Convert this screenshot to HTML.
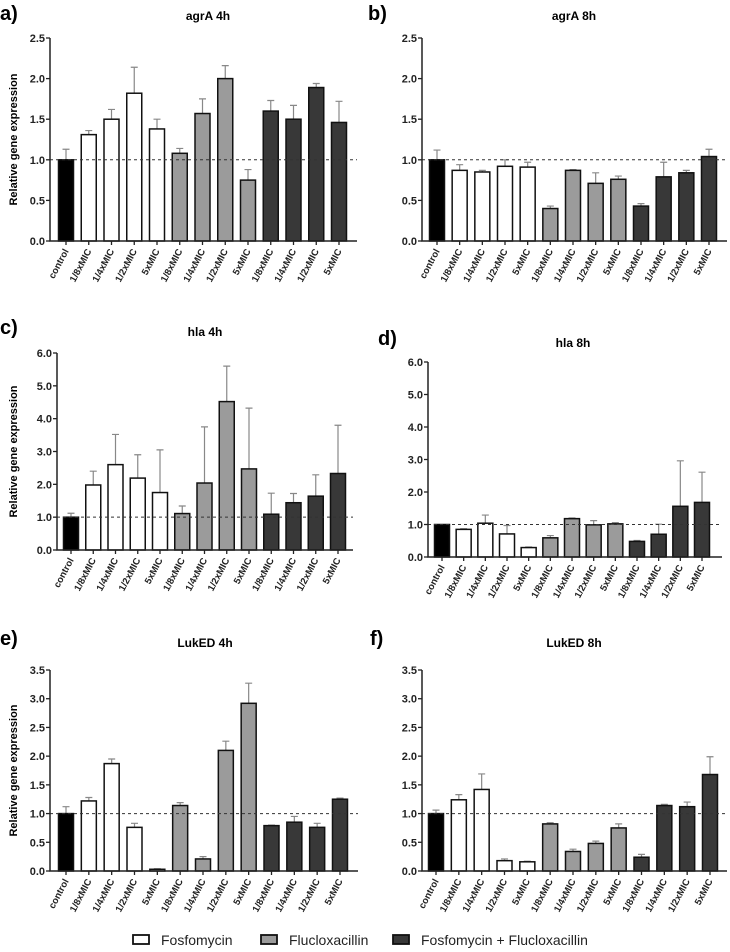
<!DOCTYPE html>
<html><head><meta charset="utf-8"><style>
body{margin:0;background:#fff;}
svg{display:block;font-family:"Liberation Sans",Arial,sans-serif;}
</style></head><body>
<svg id="fig" width="730" height="952" viewBox="0 0 730 952" xmlns="http://www.w3.org/2000/svg"></svg>
<script>
const categories = ["control","1/8xMIC","1/4xMIC","1/2xMIC","5xMIC","1/8xMIC","1/4xMIC","1/2xMIC","5xMIC","1/8xMIC","1/4xMIC","1/2xMIC","5xMIC"];
const groups = [0,1,1,1,1,2,2,2,2,3,3,3,3];
const agrA4hValues = [1.0,1.31,1.5,1.82,1.38,1.08,1.57,2.0,0.75,1.6,1.5,1.89,1.46];
const agrA4hErrTop = [1.13,1.36,1.62,2.14,1.5,1.14,1.75,2.16,0.88,1.73,1.67,1.94,1.72];
const agrA8hValues = [1.0,0.87,0.85,0.92,0.91,0.4,0.87,0.71,0.76,0.43,0.79,0.84,1.04];
const agrA8hErrTop = [1.12,0.94,0.87,1.0,0.97,0.43,0.88,0.84,0.8,0.46,0.97,0.87,1.13];
const hla4hValues = [1.0,1.98,2.6,2.19,1.75,1.11,2.04,4.52,2.47,1.09,1.44,1.64,2.33];
const hla4hErrTop = [1.12,2.4,3.52,2.9,3.05,1.34,3.75,5.6,4.32,1.73,1.72,2.29,3.8];
const hla8hValues = [1.0,0.85,1.04,0.71,0.29,0.59,1.18,0.99,1.02,0.48,0.7,1.56,1.68];
const hla8hErrTop = [1.0,0.87,1.29,0.97,0.31,0.66,1.2,1.12,1.06,0.51,1.01,2.96,2.61];
const lukED4hValues = [1.0,1.22,1.87,0.76,0.03,1.14,0.21,2.1,2.92,0.79,0.85,0.76,1.25];
const lukED4hErrTop = [1.12,1.28,1.95,0.83,0.04,1.19,0.25,2.26,3.27,0.8,0.95,0.83,1.27];
const lukED8hValues = [1.0,1.24,1.42,0.18,0.16,0.82,0.34,0.48,0.75,0.24,1.14,1.12,1.68];
const lukED8hErrTop = [1.06,1.33,1.69,0.21,0.17,0.84,0.38,0.52,0.82,0.29,1.16,1.2,1.99];
const ticksAgr = [0,0.5,1.0,1.5,2.0,2.5];
const ticksHla = [0,1,2,3,4,5,6];
const ticksLuk = [0,0.5,1.0,1.5,2.0,2.5,3.0,3.5];
const legendLabels = ["Fosfomycin","Flucloxacillin","Fosfomycin + Flucloxacillin"];

const fills = ["#000","#fff","#9b9b9b","#383838"];
const NS = "http://www.w3.org/2000/svg";
const svg = document.getElementById('fig');
function mk(tag, attrs, parent){const e=document.createElementNS(NS,tag);for(const k in attrs)e.setAttribute(k,attrs[k]);(parent||svg).appendChild(e);return e;}

const panels = [
 {letter:"a)",title:"agrA 4h",vals:agrA4hValues,err:agrA4hErrTop,ticks:ticksAgr,dec:1,x0:50,x1:357,yT:38,yB:241,c0:66,c1:339,tY:20,lY:20,lX:0,tX:208,ylab:true},
 {letter:"b)",title:"agrA 8h",vals:agrA8hValues,err:agrA8hErrTop,ticks:ticksAgr,dec:1,x0:422,x1:727,yT:38,yB:241,c0:437,c1:709,tY:20,lY:20,lX:368,tX:574,ylab:false},
 {letter:"c)",title:"hla 4h",vals:hla4hValues,err:hla4hErrTop,ticks:ticksHla,dec:1,x0:57,x1:353,yT:353,yB:550,c0:71,c1:338,tY:336,lY:334,lX:0,tX:205,ylab:true},
 {letter:"d)",title:"hla 8h",vals:hla8hValues,err:hla8hErrTop,ticks:ticksHla,dec:1,x0:428,x1:722,yT:362,yB:557,c0:442,c1:702,tY:347,lY:345,lX:378,tX:573,ylab:false},
 {letter:"e)",title:"LukED 4h",vals:lukED4hValues,err:lukED4hErrTop,ticks:ticksLuk,dec:1,x0:50,x1:358,yT:670,yB:871,c0:66,c1:340,tY:647,lY:645,lX:0,tX:205,ylab:true},
 {letter:"f)",title:"LukED 8h",vals:lukED8hValues,err:lukED8hErrTop,ticks:ticksLuk,dec:1,x0:422,x1:727,yT:670,yB:871,c0:436,c1:710,tY:647,lY:645,lX:370,tX:574,ylab:false}
];

panels.forEach((p,pi)=>{
  const g = mk('g',{});
  
  
  const max = p.ticks[p.ticks.length-1];
  const y = v => p.yB - (v/max)*(p.yB-p.yT);
  const n = p.vals.length;
  const x = i => p.c0 + i*(p.c1-p.c0)/(n-1);
  const bw = 15;
  const lt = mk('text',{x:p.lX,y:p.lY,'font-size':20,'font-weight':'bold'},g); lt.textContent=p.letter;
  
  
  const tt = mk('text',{x:p.tX,y:p.tY,'font-size':12,'font-weight':'bold','text-anchor':'middle'},g); tt.textContent=p.title;
  
  
  if(p.ylab){
    const yl = mk('text',{x:0,y:0,'font-size':11,'font-weight':'bold','text-anchor':'middle',transform:`translate(17,${(p.yT+p.yB)/2}) rotate(-90)`},g);
    yl.textContent="Relative gene expression";
    
    
  }
  p.vals.forEach((v,i)=>{
    const cx = x(i);
    const et = p.err[i];
    if(et>v){
      const el = mk('path',{d:`M${cx} ${y(v)}V${y(et)}M${cx-3.5} ${y(et)}H${cx+3.5}`,stroke:'#888',fill:'none','stroke-width':1.2},g);
      
      
    }
    const r = mk('rect',{x:cx-bw/2,y:y(v),width:bw,height:Math.max(0.5,p.yB-y(v)),fill:fills[groups[i]],stroke:'#111','stroke-width':1.5},g);
    
    
    mk('line',{x1:cx,x2:cx,y1:p.yB,y2:p.yB+4,stroke:'#222','stroke-width':1.3},g);
    const lb = mk('text',{x:0,y:0,'font-size':9.5,'font-weight':'bold','text-anchor':'end',fill:'#222',transform:`translate(${cx+3},${p.yB+10}) rotate(-62)`},g);
    lb.textContent = categories[i];
    
    
  });
  const rl = mk('line',{x1:p.x0,x2:p.x1,y1:y(1),y2:y(1),stroke:'#333','stroke-width':1,'stroke-dasharray':'3,3'},g);
  
  
  const ax = mk('path',{d:`M${p.x0} ${p.yT}V${p.yB}H${p.x1}`,stroke:'#222',fill:'none','stroke-width':1.5},g);
  
  
  p.ticks.forEach(t=>{
    mk('line',{x1:p.x0-4,x2:p.x0,y1:y(t),y2:y(t),stroke:'#222','stroke-width':1.3},g);
    const tl = mk('text',{x:p.x0-5,y:y(t)+4,'font-size':11,'font-weight':'bold','text-anchor':'end',fill:'#222'},g);
    tl.textContent = t.toFixed(p.dec);
    
    
  });
});

const lg = mk('g',{});


const lx=[133,261,393];
legendLabels.forEach((l,i)=>{
  const e = mk('g',{},lg);
  
  
  mk('rect',{x:lx[i],y:935,width:16,height:9,fill:fills[i+1],stroke:'#111','stroke-width':1.8},e);
  const t = mk('text',{x:lx[i]+28,y:945,'font-size':14,fill:'#222'},e);
  t.textContent = l;
});
</script>
</body></html>
